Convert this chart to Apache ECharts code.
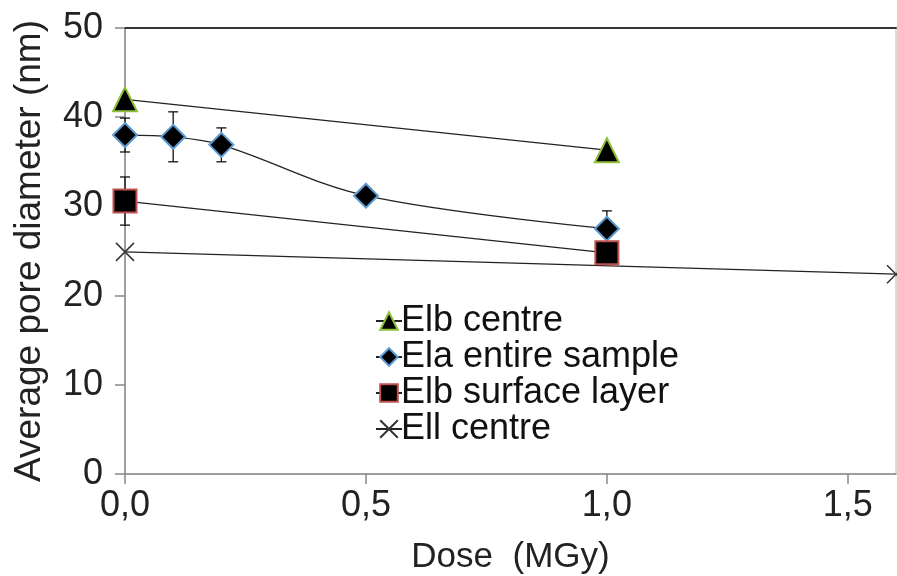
<!DOCTYPE html>
<html>
<head>
<meta charset="utf-8">
<script src="https://cdn.jsdelivr.net/npm/echarts@6/dist/echarts.min.js"></script>
<style>
  html, body { margin: 0; padding: 0; background: #fff; }
  #chart { width: 897px; height: 576px; }
</style>
</head>
<body>
<div id="chart"></div>
<script>
// doses (MGy) and average pore diameters (nm)
const elbCentreX = [0, 1.0];
const elbCentreY = [42, 36.3];
const elaX = [0, 0.1, 0.2, 0.5, 1.0];
const elaY = [38, 37.8, 36.9, 31.2, 27.5];
const elaErr = [1.9, 2.8, 1.9, null, 2.0];
const elbSurfX = [0, 1.0];
const elbSurfY = [30.6, 24.8];
const elbSurfErr = [2.7, null];
const ellCentreX = [0, 1.6];
const ellCentreY = [24.9, 22.4];
const xTicks = [0, 0.5, 1.0, 1.5];

const pairs = (xs, ys) => xs.map((x, i) => [x, ys[i]]);
const errRows = (xs, ys, es) => xs.map((x, i) => [x, ys[i], es[i]]).filter(r => r[2] != null);

const font = 'Liberation Sans, Arial, sans-serif';
const lineCol = '#222';

function renderErr(params, api) {
  const x = api.value(0), y = api.value(1), e = api.value(2);
  const top = api.coord([x, y + e]);
  const bot = api.coord([x, y - e]);
  const w = 5;
  const st = { stroke: '#111', lineWidth: 1.3 };
  return {
    type: 'group',
    children: [
      { type: 'line', shape: { x1: top[0], y1: top[1], x2: bot[0], y2: bot[1] }, style: st },
      { type: 'line', shape: { x1: top[0] - w, y1: top[1], x2: top[0] + w, y2: top[1] }, style: st },
      { type: 'line', shape: { x1: bot[0] - w, y1: bot[1], x2: bot[0] + w, y2: bot[1] }, style: st }
    ]
  };
}

const chart = echarts.init(document.getElementById('chart'));

const option = {
  backgroundColor: '#fff',
  animation: false,
  grid: {
    left: 125, right: 1, top: 28, bottom: 102,
    outerBoundsMode: 'none',
    show: true, borderColor: '#bbb', borderWidth: 1
  },
  legend: {
    orient: 'vertical',
    left: 370,
    top: 298,
    itemGap: 0,
    itemWidth: 26,
    itemHeight: 22,
    textStyle: { fontFamily: font, fontSize: 36, lineHeight: 36, color: '#111', padding: [0, 0, 0, -6] },
    data: ['Elb centre', 'Ela entire sample', 'Elb surface layer', 'Ell centre']
  },
  xAxis: [
    {
      type: 'value',
      min: 0,
      max: 1.6,
      name: 'Dose  (MGy)',
      nameLocation: 'middle',
      nameGap: 66,
      nameTextStyle: { fontFamily: font, fontSize: 35, color: '#222' },
      axisLine: { show: true, lineStyle: { color: '#888', width: 1.5 } },
      axisTick: { show: true, length: 10, customValues: xTicks, lineStyle: { color: '#888', width: 1.5 } },
      axisLabel: {
        customValues: xTicks,
        margin: 14,
        fontFamily: font, fontSize: 36, color: '#222',
        formatter: v => v.toFixed(1).replace('.', ',')
      },
      splitLine: { show: false }
    },
    {
      type: 'value',
      position: 'top',
      min: 0,
      max: 1.6,
      axisLine: { show: true, lineStyle: { color: '#333', width: 2 } },
      axisTick: { show: false },
      axisLabel: { show: false },
      splitLine: { show: false }
    }
  ],
  yAxis: {
    type: 'value',
    min: 0,
    max: 50,
    interval: 10,
    name: 'Average pore diameter (nm)',
    nameLocation: 'middle',
    nameGap: 77,
    nameTextStyle: { fontFamily: font, fontSize: 37, color: '#222' },
    axisLine: { show: true, lineStyle: { color: '#888', width: 1.5 } },
    axisTick: { show: true, length: 10, lineStyle: { color: '#888', width: 1.5 } },
    axisLabel: { margin: 22, fontFamily: font, fontSize: 36, color: '#222' },
    splitLine: { show: false }
  },
  series: [
    {
      type: 'custom',
      renderItem: renderErr,
      data: errRows(elaX, elaY, elaErr).concat(errRows(elbSurfX, elbSurfY, elbSurfErr)),
      z: 1,
      silent: true
    },
    {
      name: 'Elb centre',
      type: 'line',
      data: pairs(elbCentreX, elbCentreY),
      symbol: 'triangle',
      symbolSize: 24,
      itemStyle: { color: '#000', borderColor: '#8fbf3a', borderWidth: 2 },
      lineStyle: { color: lineCol, width: 1.3 },
      z: 3
    },
    {
      name: 'Ela entire sample',
      type: 'line',
      data: pairs(elaX, elaY),
      smooth: 0.35,
      symbol: 'diamond',
      symbolSize: 24,
      itemStyle: { color: '#000', borderColor: '#5b9bd5', borderWidth: 2 },
      lineStyle: { color: lineCol, width: 1.3 },
      z: 3
    },
    {
      name: 'Elb surface layer',
      type: 'line',
      data: pairs(elbSurfX, elbSurfY),
      symbol: 'rect',
      symbolSize: 23,
      itemStyle: { color: '#000', borderColor: '#c0504d', borderWidth: 2 },
      lineStyle: { color: lineCol, width: 1.3 },
      z: 3
    },
    {
      name: 'Ell centre',
      type: 'line',
      data: pairs(ellCentreX, ellCentreY),
      symbol: 'path://M0,0L10,10M0,10L10,0',
      symbolSize: 18,
      itemStyle: { color: 'transparent', borderColor: '#333', borderWidth: 1.5 },
      lineStyle: { color: lineCol, width: 1.3 },
      z: 3
    }
  ]
};

chart.setOption(option);
window.addEventListener('resize', () => chart.resize());
</script>
</body>
</html>
